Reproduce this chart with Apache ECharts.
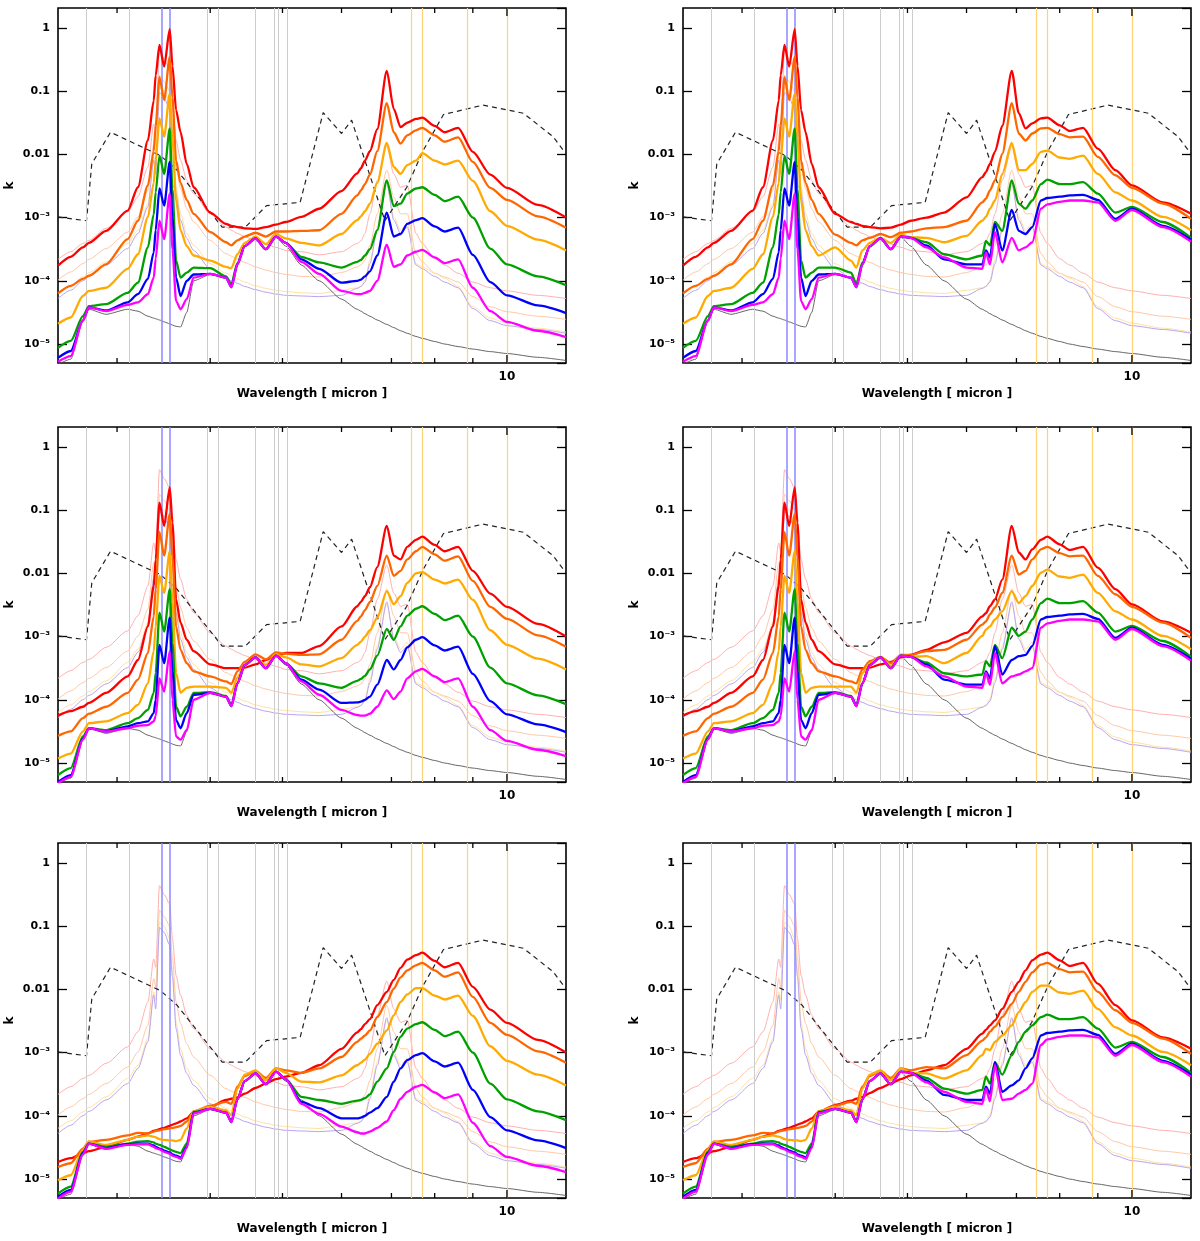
<!DOCTYPE html>
<html>
<head>
<meta charset="utf-8">
<title>k vs wavelength</title>
<script src="https://cdn.jsdelivr.net/npm/echarts@6/dist/echarts.min.js"></script>
<style>
  html, body { margin: 0; padding: 0; background: #fff; }
  #chart { width: 1200px; height: 1241px; }
</style>
</head>
<body>
<div id="chart"></div>
<script>
// wavelength grid (micron) shared by every curve
const WAVELENGTH = [2.5, 2.6, 2.7, 2.75, 2.9, 3.1, 3.2, 3.3, 3.36, 3.38, 3.42, 3.47, 3.53, 3.56, 3.6, 3.65, 3.72, 3.8,
  4.0, 4.2, 4.27, 4.35, 4.45, 4.6, 4.75, 4.9, 5.05, 5.3, 5.6, 6.0, 6.3, 6.37, 6.45, 6.55, 6.7, 6.9, 7.05, 7.2, 7.35, 7.55,
  7.7, 8.0, 8.25, 8.6, 9.0, 9.5, 10, 11, 12];

// all values below are log10(k)
// thick curves, rows in order: red, orange, yellow, green, blue, magenta
// short-wave part 2.5 - 3.8 micron, one block per panel row
const SW_TOP = [
  [-3.76, -3.62, -3.47, -3.40, -3.21, -2.89, -2.52, -1.78, -1.15, -0.75, -0.27, -0.61, -0.02, -0.60, -1.30, -1.65, -2.15, -2.52],
  [-4.20, -4.08, -3.97, -3.92, -3.74, -3.34, -3.05, -2.49, -1.95, -1.55, -0.78, -1.14, -0.46, -1.10, -2.10, -2.45, -2.72, -2.94],
  [-4.68, -4.58, -4.24, -4.16, -4.11, -3.81, -3.58, -2.99, -2.45, -2.10, -1.43, -1.72, -1.04, -1.75, -2.73, -3.20, -3.45, -3.60],
  [-5.06, -4.95, -4.56, -4.40, -4.37, -4.19, -4.03, -3.47, -2.95, -2.60, -2.02, -2.31, -1.59, -2.55, -3.68, -3.95, -3.87, -3.79],
  [-5.22, -5.11, -4.63, -4.42, -4.47, -4.34, -4.21, -3.97, -3.55, -3.20, -2.54, -2.81, -2.12, -3.00, -3.95, -4.24, -4.00, -3.90],
  [-5.28, -5.19, -4.63, -4.42, -4.48, -4.38, -4.34, -4.21, -3.95, -3.65, -3.05, -3.34, -2.62, -3.50, -4.32, -4.45, -4.29, -3.95]
];
const SW_MID = [
  [-4.25, -4.18, -4.11, -4.05, -3.89, -3.63, -3.37, -2.84, -2.20, -1.78, -0.88, -1.25, -0.64, -1.20, -2.41, -2.78, -3.05, -3.23],
  [-4.57, -4.50, -4.29, -4.22, -4.11, -3.89, -3.68, -3.26, -2.68, -2.25, -1.35, -1.72, -1.06, -1.75, -2.84, -3.21, -3.42, -3.55],
  [-4.93, -4.85, -4.50, -4.37, -4.34, -4.21, -4.08, -3.74, -3.23, -2.84, -2.04, -2.31, -1.65, -2.45, -3.58, -3.89, -3.81, -3.79],
  [-5.19, -5.08, -4.58, -4.45, -4.48, -4.37, -4.29, -4.16, -3.89, -3.58, -2.62, -2.92, -2.25, -3.10, -4.11, -4.26, -4.11, -3.89],
  [-5.30, -5.19, -4.62, -4.45, -4.50, -4.42, -4.37, -4.34, -4.21, -4.00, -3.13, -3.42, -2.70, -3.55, -4.32, -4.45, -4.21, -3.92],
  [-5.32, -5.22, -4.63, -4.45, -4.50, -4.45, -4.41, -4.40, -4.34, -4.26, -3.66, -3.87, -3.23, -4.00, -4.58, -4.63, -4.48, -4.00]
];
const SW_BOT = [
  [-4.73, -4.67, -4.59, -4.56, -4.49, -4.38, -4.33, -4.28, -4.24, -4.23, -4.21, -4.19, -4.16, -4.14, -4.12, -4.09, -4.04, -3.94],
  [-4.81, -4.75, -4.52, -4.41, -4.38, -4.31, -4.27, -4.28, -4.25, -4.24, -4.23, -4.21, -4.20, -4.19, -4.18, -4.16, -4.09, -3.93],
  [-5.02, -4.94, -4.54, -4.41, -4.46, -4.38, -4.33, -4.31, -4.33, -4.34, -4.37, -4.38, -4.39, -4.39, -4.40, -4.38, -4.20, -3.93],
  [-5.23, -5.12, -4.57, -4.44, -4.49, -4.44, -4.41, -4.40, -4.42, -4.44, -4.46, -4.49, -4.53, -4.55, -4.57, -4.59, -4.44, -3.94],
  [-5.28, -5.17, -4.59, -4.44, -4.51, -4.45, -4.44, -4.44, -4.47, -4.49, -4.52, -4.55, -4.58, -4.61, -4.63, -4.66, -4.49, -3.95],
  [-5.31, -5.20, -4.61, -4.44, -4.52, -4.46, -4.45, -4.45, -4.49, -4.51, -4.53, -4.57, -4.60, -4.63, -4.65, -4.68, -4.51, -3.96]
];

// middle part 4.0 - 7.55 micron, one block per panel
const MID_TL = [
  [-2.92, -3.10, -3.13, -3.15, -3.17, -3.18, -3.15, -3.11, -3.07, -2.99, -2.86, -2.58, -2.30, -2.22, -2.10, -1.95, -1.60, -0.68, -1.28, -1.57, -1.50, -1.44],
  [-3.23, -3.39, -3.44, -3.36, -3.30, -3.24, -3.30, -3.22, -3.22, -3.21, -3.20, -2.94, -2.65, -2.57, -2.47, -2.32, -1.95, -1.19, -1.65, -1.83, -1.70, -1.62],
  [-3.68, -3.78, -3.80, -3.58, -3.40, -3.30, -3.42, -3.26, -3.33, -3.40, -3.44, -3.26, -3.04, -2.98, -2.90, -2.78, -2.45, -1.82, -2.20, -2.31, -2.17, -2.10],
  [-3.80, -3.93, -4.05, -3.72, -3.45, -3.33, -3.50, -3.30, -3.40, -3.62, -3.71, -3.79, -3.70, -3.67, -3.60, -3.50, -3.20, -2.41, -2.82, -2.78, -2.62, -2.54],
  [-3.89, -3.95, -4.10, -3.74, -3.45, -3.33, -3.50, -3.30, -3.40, -3.66, -3.81, -4.03, -4.00, -3.98, -3.93, -3.85, -3.60, -2.92, -3.30, -3.26, -3.10, -3.04],
  [-3.89, -3.95, -4.10, -3.74, -3.45, -3.33, -3.50, -3.30, -3.40, -3.70, -3.89, -4.16, -4.21, -4.21, -4.19, -4.16, -4.00, -3.43, -3.78, -3.74, -3.60, -3.54]
];
const MID_TR = [
  [-2.94, -3.07, -3.10, -3.13, -3.15, -3.17, -3.16, -3.11, -3.05, -3.00, -2.92, -2.68, -2.36, -2.28, -2.15, -1.96, -1.55, -0.68, -1.35, -1.59, -1.51, -1.43],
  [-3.27, -3.40, -3.44, -3.36, -3.32, -3.26, -3.31, -3.24, -3.22, -3.17, -3.15, -3.05, -2.76, -2.70, -2.57, -2.41, -1.99, -1.19, -1.67, -1.78, -1.67, -1.59],
  [-3.47, -3.68, -3.79, -3.52, -3.40, -3.32, -3.40, -3.27, -3.31, -3.32, -3.39, -3.29, -3.05, -2.99, -2.86, -2.73, -2.31, -1.82, -2.25, -2.25, -2.15, -1.96],
  [-3.79, -3.87, -4.05, -3.71, -3.46, -3.32, -3.50, -3.30, -3.32, -3.39, -3.58, -3.66, -3.60, -3.37, -3.44, -3.07, -3.21, -2.41, -2.78, -2.86, -2.73, -2.47],
  [-3.89, -3.95, -4.10, -3.74, -3.45, -3.33, -3.50, -3.30, -3.32, -3.44, -3.66, -3.74, -3.74, -3.52, -3.63, -3.10, -3.52, -2.88, -3.21, -3.26, -3.15, -2.73],
  [-3.89, -3.95, -4.10, -3.74, -3.45, -3.33, -3.50, -3.30, -3.32, -3.47, -3.63, -3.79, -3.81, -3.55, -3.74, -3.23, -3.71, -3.32, -3.52, -3.47, -3.39, -2.86]
];
const MID_ML = [
  [-3.44, -3.50, -3.50, -3.50, -3.49, -3.44, -3.37, -3.31, -3.26, -3.26, -3.15, -2.84, -2.52, -2.45, -2.36, -2.22, -1.90, -1.25, -1.72, -1.78, -1.58, -1.47],
  [-3.63, -3.71, -3.75, -3.55, -3.40, -3.28, -3.36, -3.25, -3.27, -3.29, -3.28, -3.05, -2.75, -2.68, -2.58, -2.45, -2.20, -1.72, -2.04, -1.96, -1.78, -1.65],
  [-3.79, -3.81, -3.89, -3.65, -3.44, -3.32, -3.45, -3.28, -3.33, -3.44, -3.47, -3.34, -3.13, -3.08, -3.00, -2.90, -2.70, -2.28, -2.49, -2.36, -2.15, -2.00],
  [-3.88, -3.94, -4.08, -3.74, -3.45, -3.33, -3.50, -3.30, -3.42, -3.63, -3.74, -3.81, -3.70, -3.67, -3.62, -3.52, -3.30, -2.88, -3.05, -2.84, -2.67, -2.56],
  [-3.89, -3.95, -4.10, -3.74, -3.45, -3.33, -3.50, -3.30, -3.42, -3.68, -3.84, -4.05, -4.04, -4.03, -4.00, -3.95, -3.76, -3.37, -3.52, -3.37, -3.17, -3.05],
  [-3.89, -3.95, -4.10, -3.74, -3.45, -3.33, -3.50, -3.30, -3.42, -3.71, -3.92, -4.16, -4.24, -4.25, -4.25, -4.22, -4.11, -3.85, -3.99, -3.87, -3.66, -3.55]
];
const MID_MR = [
  [-3.44, -3.50, -3.50, -3.50, -3.49, -3.44, -3.40, -3.33, -3.29, -3.21, -3.09, -2.94, -2.68, -2.63, -2.52, -2.41, -2.10, -1.25, -1.67, -1.78, -1.62, -1.47],
  [-3.63, -3.71, -3.74, -3.52, -3.39, -3.32, -3.42, -3.29, -3.29, -3.23, -3.21, -3.05, -2.81, -2.76, -2.65, -2.54, -2.31, -1.72, -2.02, -1.96, -1.78, -1.62],
  [-3.79, -3.79, -3.89, -3.58, -3.42, -3.32, -3.46, -3.29, -3.32, -3.31, -3.42, -3.26, -2.99, -2.89, -2.84, -2.73, -2.60, -2.28, -2.47, -2.36, -2.20, -1.99],
  [-3.88, -3.94, -4.08, -3.74, -3.45, -3.33, -3.50, -3.30, -3.32, -3.41, -3.58, -3.63, -3.60, -3.39, -3.47, -3.13, -3.34, -2.86, -2.99, -2.92, -2.73, -2.47],
  [-3.89, -3.95, -4.10, -3.74, -3.45, -3.33, -3.50, -3.30, -3.32, -3.44, -3.68, -3.76, -3.76, -3.55, -3.66, -3.15, -3.60, -3.37, -3.31, -3.29, -3.15, -2.73],
  [-3.89, -3.95, -4.10, -3.74, -3.45, -3.33, -3.50, -3.30, -3.32, -3.47, -3.63, -3.79, -3.81, -3.57, -3.76, -3.26, -3.74, -3.63, -3.60, -3.55, -3.50, -2.86]
];
const MID_BL = [
  [-3.86, -3.75, -3.73, -3.71, -3.65, -3.56, -3.49, -3.42, -3.38, -3.32, -3.20, -2.94, -2.68, -2.63, -2.55, -2.47, -2.25, -2.04, -1.85, -1.66, -1.53, -1.46],
  [-3.84, -3.78, -3.81, -3.54, -3.37, -3.29, -3.40, -3.25, -3.28, -3.32, -3.25, -3.07, -2.83, -2.78, -2.73, -2.65, -2.44, -2.20, -1.99, -1.81, -1.70, -1.62],
  [-3.86, -3.91, -3.99, -3.57, -3.35, -3.28, -3.44, -3.25, -3.32, -3.46, -3.47, -3.36, -3.20, -3.16, -3.11, -3.02, -2.86, -2.65, -2.41, -2.20, -2.08, -1.98],
  [-3.89, -3.95, -4.08, -3.74, -3.45, -3.33, -3.50, -3.30, -3.42, -3.70, -3.75, -3.81, -3.76, -3.75, -3.72, -3.66, -3.46, -3.25, -2.99, -2.75, -2.62, -2.55],
  [-3.89, -3.95, -4.10, -3.74, -3.45, -3.33, -3.50, -3.30, -3.42, -3.78, -3.88, -4.04, -4.04, -4.03, -4.00, -3.95, -3.88, -3.70, -3.46, -3.25, -3.12, -3.04],
  [-3.89, -3.95, -4.10, -3.74, -3.45, -3.33, -3.50, -3.30, -3.42, -3.81, -3.97, -4.17, -4.26, -4.28, -4.28, -4.25, -4.19, -4.09, -3.91, -3.73, -3.62, -3.54]
];
const MID_BR = [
  [-3.83, -3.76, -3.73, -3.70, -3.64, -3.56, -3.49, -3.42, -3.36, -3.28, -3.20, -2.94, -2.70, -2.64, -2.57, -2.49, -2.31, -2.04, -1.88, -1.70, -1.54, -1.45],
  [-3.84, -3.78, -3.81, -3.54, -3.37, -3.29, -3.40, -3.25, -3.28, -3.23, -3.25, -3.04, -2.81, -2.76, -2.67, -2.59, -2.44, -2.23, -2.04, -1.88, -1.73, -1.61],
  [-3.86, -3.91, -3.99, -3.57, -3.35, -3.28, -3.44, -3.25, -3.32, -3.33, -3.41, -3.28, -3.04, -2.94, -2.96, -2.83, -2.73, -2.57, -2.36, -2.20, -2.04, -1.94],
  [-3.89, -3.95, -4.08, -3.74, -3.45, -3.33, -3.50, -3.30, -3.32, -3.40, -3.57, -3.65, -3.59, -3.38, -3.49, -3.15, -3.35, -3.04, -2.83, -2.67, -2.57, -2.44],
  [-3.89, -3.95, -4.10, -3.74, -3.45, -3.33, -3.50, -3.30, -3.32, -3.44, -3.67, -3.75, -3.75, -3.54, -3.65, -3.15, -3.62, -3.52, -3.44, -3.25, -3.09, -2.73],
  [-3.89, -3.95, -4.10, -3.74, -3.45, -3.33, -3.50, -3.30, -3.32, -3.47, -3.62, -3.78, -3.81, -3.57, -3.77, -3.20, -3.75, -3.73, -3.65, -3.59, -3.49, -2.88]
];

// long-wave tail 7.7 - 12 micron, one block per panel column
const TAIL_LEFT = [
  [-1.42, -1.55, -1.65, -1.58, -1.96, -2.32, -2.53, -2.80, -3.00],
  [-1.58, -1.70, -1.80, -1.73, -2.12, -2.53, -2.72, -2.98, -3.16],
  [-1.98, -2.10, -2.16, -2.10, -2.42, -2.90, -3.13, -3.35, -3.52],
  [-2.52, -2.64, -2.74, -2.67, -3.00, -3.49, -3.74, -3.93, -4.07],
  [-3.01, -3.14, -3.22, -3.16, -3.59, -4.02, -4.23, -4.39, -4.51],
  [-3.51, -3.63, -3.72, -3.66, -4.11, -4.48, -4.65, -4.79, -4.89]
];
const TAIL_RIGHT = [
  [-1.42, -1.54, -1.63, -1.58, -1.91, -2.25, -2.49, -2.76, -2.94],
  [-1.58, -1.68, -1.73, -1.72, -2.04, -2.33, -2.53, -2.78, -3.02],
  [-1.94, -2.05, -2.07, -2.02, -2.31, -2.60, -2.73, -2.99, -3.20],
  [-2.40, -2.47, -2.47, -2.44, -2.62, -2.92, -2.83, -3.07, -3.32],
  [-2.69, -2.67, -2.65, -2.64, -2.72, -3.02, -2.86, -3.13, -3.35],
  [-2.79, -2.75, -2.73, -2.73, -2.76, -3.05, -2.88, -3.15, -3.38]
];

// thin reference curves, identical in all six panels
const THIN_PINK = [-3.66, -3.54, -3.41, -3.36, -3.17, -2.91, -2.67, -2.20, -1.52, -1.65, -0.36, -0.50, -0.65, -1.20, -1.78, -2.09, -2.41, -2.62,
  -2.94, -3.15, -3.20, -3.25, -3.30, -3.37, -3.42, -3.47, -3.52, -3.54, -3.59, -3.54, -3.41, -3.37, -3.25, -2.94, -2.41, -1.87, -2.31, -2.52, -2.49, -3.25,
  -3.41, -3.65, -3.75, -3.88, -4.02, -4.11, -4.16, -4.23, -4.28];
const THIN_PEACH = [-3.99, -3.86, -3.73, -3.66, -3.49, -3.23, -2.99, -2.57, -1.83, -1.96, -0.75, -0.85, -1.00, -1.50, -2.20, -2.54, -2.86, -3.07,
  -3.36, -3.57, -3.61, -3.66, -3.71, -3.78, -3.83, -3.87, -3.90, -3.93, -3.94, -3.87, -3.78, -3.75, -3.67, -3.44, -2.94, -2.25, -2.67, -2.94, -2.94, -3.57,
  -3.70, -3.88, -3.94, -4.02, -4.25, -4.41, -4.49, -4.56, -4.61];
const THIN_YELLOW = [-4.20, -4.08, -3.94, -3.87, -3.70, -3.41, -3.20, -2.78, -2.04, -2.17, -0.94, -1.00, -1.20, -1.72, -2.52, -2.94, -3.25, -3.44,
  -3.73, -3.88, -3.92, -3.97, -4.02, -4.08, -4.12, -4.15, -4.17, -4.19, -4.20, -4.15, -4.11, -4.09, -3.99, -3.67, -3.15, -2.49, -2.99, -3.20, -3.09, -3.73,
  -3.78, -3.88, -3.96, -4.09, -4.41, -4.59, -4.67, -4.75, -4.81];
const THIN_LAVENDER = [-4.28, -4.15, -4.00, -3.93, -3.75, -3.49, -3.25, -2.83, -2.09, -2.31, -1.02, -1.10, -1.30, -1.80, -2.62, -3.04, -3.33, -3.52,
  -3.81, -3.96, -4.00, -4.04, -4.09, -4.14, -4.18, -4.21, -4.23, -4.24, -4.25, -4.23, -4.12, -4.09, -4.02, -3.73, -3.20, -2.45, -3.04, -3.25, -3.15, -3.75,
  -3.81, -3.93, -4.02, -4.11, -4.44, -4.63, -4.71, -4.77, -4.83];
const THIN_BLACK = [-5.32, -5.24, -4.63, -4.45, -4.53, -4.45, -4.48, -4.56, -4.59, -4.60, -4.62, -4.65, -4.68, -4.70, -4.72, -4.73, -4.50, -4.00,
  -3.90, -3.96, -4.11, -3.75, -3.46, -3.34, -3.51, -3.31, -3.45, -3.75, -4.00, -4.29, -4.45, -4.48, -4.52, -4.56, -4.62, -4.69, -4.74, -4.79, -4.83, -4.88,
  -4.91, -4.96, -5.00, -5.04, -5.08, -5.12, -5.15, -5.21, -5.26];

// dashed polyline (own vertices)
const DASHED_WL = [2.5, 2.73, 2.775, 2.94, 3.43, 3.61, 4.15, 4.46, 4.76, 5.28, 5.67, 6.0, 6.19, 6.86, 7.34, 7.72, 8.22, 9.29, 10.52, 11.53, 12];
const DASHED_K = [-2.99, -3.05, -2.15, -1.65, -2.02, -2.25, -3.15, -3.15, -2.81, -2.76, -1.34, -1.67, -1.46, -3.05, -2.52, -1.94, -1.37, -1.22, -1.35, -1.72, -1.99];

// vertical marker lines (micron)
const GRAY_LINES = [2.73, 3.12, 3.96, 4.10, 4.59, 4.87, 4.93, 5.08];
const BLUE_LINES = [3.44, 3.53];
const ORANGE_LINES = [7.43, 7.69, 8.84, 10.0];
const X_TICKS = [3, 4, 5, 6, 7, 8, 9, 10];

const COLORS = ['#ff0000', '#ff6600', '#ffaa00', '#00a000', '#0000ff', '#ff00ff'];
const PANELS = [
  { sw: SW_TOP, mid: MID_TL, tail: TAIL_LEFT },
  { sw: SW_TOP, mid: MID_TR, tail: TAIL_RIGHT },
  { sw: SW_MID, mid: MID_ML, tail: TAIL_LEFT },
  { sw: SW_MID, mid: MID_MR, tail: TAIL_RIGHT },
  { sw: SW_BOT, mid: MID_BL, tail: TAIL_LEFT },
  { sw: SW_BOT, mid: MID_BR, tail: TAIL_RIGHT }
];

const FONT = 'DejaVu Sans';
const YMIN = Math.pow(10, -5.3);
const YMAX = Math.pow(10, 0.315);
const SUP = { '-3': '\u207b\u00b3', '-4': '\u207b\u2074', '-5': '\u207b\u2075' };

function pairs(logs) {
  return WAVELENGTH.map((w, i) => [w, Math.pow(10, logs[i])]);
}

function yLabel(v) {
  const l = Math.log10(v);
  const e = Math.round(l);
  if (Math.abs(l - e) > 1e-6) return '';
  if (e === 0) return '1';
  if (e === -1) return '0.1';
  if (e === -2) return '0.01';
  return '10' + (SUP[e] || '');
}

function tickItem(params, api) {
  const v = api.value(0);
  const x = api.coord([v, 1])[0];
  const cs = params.coordSys;
  const len = v === 10 ? 8 : 5;
  const style = { stroke: '#000', lineWidth: 1.3 };
  return {
    type: 'group',
    children: [
      { type: 'line', shape: { x1: x, y1: cs.y + cs.height, x2: x, y2: cs.y + cs.height - len }, style: style },
      { type: 'line', shape: { x1: x, y1: cs.y, x2: x, y2: cs.y + len }, style: style }
    ]
  };
}

const grids = [], xAxes = [], yAxes = [], series = [];
const lefts = [58, 683], tops = [8, 427, 843];

PANELS.forEach((p, i) => {
  grids.push({
    left: lefts[i % 2], top: tops[Math.floor(i / 2)], width: 508, height: 355,
    show: true, borderColor: '#000', borderWidth: 1.6, backgroundColor: 'transparent'
  });
  xAxes.push({
    type: 'log', gridIndex: i, min: 2.5, max: 12,
    axisLine: { show: false }, axisTick: { show: false }, splitLine: { show: false },
    axisLabel: {
      formatter: v => (Math.abs(v - 10) < 1e-6 ? '10' : ''),
      showMinLabel: false, showMaxLabel: false, margin: 8,
      color: '#000', fontFamily: FONT, fontWeight: 'bold', fontSize: 12
    },
    name: 'Wavelength [ micron ]', nameLocation: 'middle', nameGap: 25,
    nameTextStyle: { color: '#000', fontFamily: FONT, fontWeight: 'bold', fontSize: 12 }
  });
  yAxes.push({
    type: 'log', gridIndex: i, min: YMIN, max: YMAX,
    axisLine: { show: false }, splitLine: { show: false },
    axisTick: { inside: true, length: 9, lineStyle: { color: '#000', width: 1.3 } },
    axisLabel: {
      formatter: yLabel, showMinLabel: false, showMaxLabel: false, margin: 8,
      color: '#000', fontFamily: FONT, fontWeight: 'bold', fontSize: 11
    },
    name: 'k', nameLocation: 'middle', nameGap: 42, nameRotate: 90,
    nameTextStyle: { color: '#000', fontFamily: FONT, fontWeight: 'bold', fontSize: 12 }
  });
  yAxes.push({
    type: 'log', gridIndex: i, min: YMIN, max: YMAX, position: 'right',
    axisLine: { show: false }, splitLine: { show: false }, axisLabel: { show: false },
    axisTick: { inside: true, length: 9, lineStyle: { color: '#000', width: 1.3 } }
  });

  const ax = { xAxisIndex: i, yAxisIndex: 2 * i };
  const vline = (v, color, width) => ({ xAxis: v, lineStyle: { color: color, width: width, type: 'solid' } });

  // vertical lines carried by the first thin curve
  series.push(Object.assign({
    type: 'line', data: pairs(THIN_PINK), showSymbol: false, smooth: 0.25, smoothMonotone: 'x',
    lineStyle: { color: '#ffb0b0', width: 1 }, z: 2,
    markLine: {
      silent: true, symbol: ['none', 'none'], label: { show: false }, animation: false,
      data: GRAY_LINES.map(v => vline(v, '#cdcdcd', 1))
        .concat(BLUE_LINES.map(v => vline(v, '#8a8aff', 1.5)))
        .concat(ORANGE_LINES.map(v => vline(v, '#ffd27a', 1.2)))
    }
  }, ax));
  [[THIN_PEACH, '#ffc9a6'], [THIN_YELLOW, '#ffe2a0'], [THIN_LAVENDER, '#b8a4f2']].forEach(([d, c]) => {
    series.push(Object.assign({
      type: 'line', data: pairs(d), showSymbol: false, smooth: 0.25, smoothMonotone: 'x',
      lineStyle: { color: c, width: 1 }, z: 3
    }, ax));
  });
  series.push(Object.assign({
    type: 'line', data: pairs(THIN_BLACK), showSymbol: false, smooth: 0.2, smoothMonotone: 'x',
    lineStyle: { color: '#555', width: 0.9 }, z: 3
  }, ax));
  series.push(Object.assign({
    type: 'line', data: DASHED_WL.map((w, k) => [w, Math.pow(10, DASHED_K[k])]), showSymbol: false,
    lineStyle: { color: '#222', width: 1.2, type: [5, 4] }, z: 4
  }, ax));
  COLORS.forEach((c, j) => {
    series.push(Object.assign({
      type: 'line', data: pairs(p.sw[j].concat(p.mid[j], p.tail[j])),
      showSymbol: false, smooth: 0.25, smoothMonotone: 'x',
      lineStyle: { color: c, width: 2.3 }, z: 5 + j
    }, ax));
  });
  series.push(Object.assign({
    type: 'custom', data: X_TICKS.map(v => [v, 1]), renderItem: tickItem,
    silent: true, clip: false, z: 20
  }, ax));
});

const chart = echarts.init(document.getElementById('chart'), null, { renderer: 'canvas' });
chart.setOption({
  backgroundColor: '#fff',
  animation: false,
  grid: grids,
  xAxis: xAxes,
  yAxis: yAxes,
  series: series
});
window.addEventListener('resize', () => chart.resize());
</script>
</body>
</html>
